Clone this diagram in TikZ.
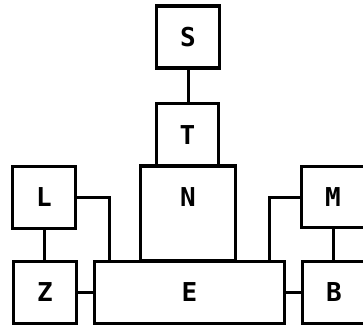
\documentclass[tikz,border=0pt]{standalone}
\usepackage{fontspec}
\usepackage{tikz}
\usetikzlibrary{positioning}
\newfontfamily\blockfont{DejaVu Sans Mono}

\begin{document}
\begin{tikzpicture}[
  x=1pt,y=-1pt,
  every node/.style={font=\blockfont\bfseries\fontsize{26}{26}\selectfont},
  box/.style={rectangle,draw,line width=3.4pt,fill=white,minimum width=63pt,minimum height=62pt,inner sep=0pt},
  wire/.style={line width=3pt,draw=black}
]
\useasboundingbox (0,0) rectangle (363,330);

\coordinate (lfoot) at (109,261.5);
\coordinate (mfoot) at (269,261.5);

\node[box] (S) at (188,37) {S};
\node[box,minimum width=62pt,minimum height=62.5pt] (T) at (187.5,134.75) {T};
\node[box,minimum width=95pt,minimum height=95pt,text depth=33pt] (N) at (188,213.5) {N};
\node[box,minimum width=190pt] (E) at (189.5,292.5) {E};
\node[box] (L) at (44,197.5) {L};
\node[box] (Z) at (45,292.5) {Z};
\node[box,minimum height=61pt] (M) at (333,197) {M};
\node[box] (B) at (334,292.5) {B};

\draw[wire] (S.south) -- (S.south |- T.north);
\draw[wire] (L.south) -- (L.south |- Z.north);
\draw[wire] (M.south) -- (M.south |- B.north);
\draw[wire] (Z.east) -- (E.west);
\draw[wire] (E.east) -- (B.west);
\draw[wire] (L.east) -| (lfoot);
\draw[wire] (M.west) -| (mfoot);
\end{tikzpicture}
\end{document}
